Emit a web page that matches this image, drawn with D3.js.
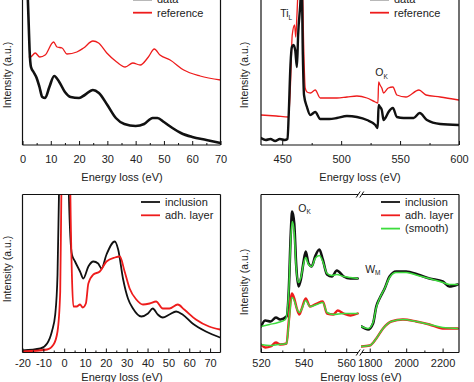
<!DOCTYPE html>
<html><head><meta charset="utf-8">
<script src="https://cdn.jsdelivr.net/npm/d3@7"></script>
<style>
body{margin:0;background:#fff}
svg{display:block}
text{font-family:"Liberation Sans",Arial,Helvetica,sans-serif;fill:#222}
</style>
</head><body>
<svg id="c" width="474" height="382"></svg>
<script>
// ---------- DATA (energy loss in eV, intensity in a.u.) ----------
// Panel 1 (low loss, 0-70 eV)
const p1Data = [[1.6,170],[2.2,120],[2.5,95],[3.0,78],[3.9,73],[5,67],[6,58],[7,48],[8,47],[9.5,58],[11.2,69],[13,63],[15,53],[17,48],[20,47],[22,50],[24.9,55],[27,52],[30,40],[33,27],[36,21],[40,19],[43,21],[46,27],[47.7,27],[50,23],[53,17],[56,12],[60,8],[65,5],[70,2]];
const p1Ref = [[2.4,88],[2.8,88],[4.5,92],[6.1,88],[8,90],[11,103],[12.2,98],[14,97],[15.7,91],[19.2,93],[21.6,97],[24.9,104],[26.9,102],[29.8,92],[33.3,83],[36.3,78],[39,82],[41.6,80],[44.5,88],[46.6,96],[48.6,90],[52.2,85],[57,75],[62.8,69],[70,65]];
const p1Ticks = [0,10,20,30,40,50,60,70];

// Panel 2 (Ti L and O K edges)
const p2Data = [[432,7],[436,5],[440,6],[444,4],[448,6],[452,5],[454.5,6],[455.5,30],[457,80],[458.2,98],[459.6,100],[461,95],[462.5,78],[463.5,110],[465.3,140],[466.5,165],[467.5,90],[468.5,50],[471,38],[473.8,30],[478,33],[482.3,26],[490,26],[496.4,27],[504.9,29],[513.4,28],[521.9,25],[529,20],[531,17],[531.8,40],[533,38],[534.5,35],[536,25],[537.5,27],[540.2,33],[543.9,37],[547.3,28],[553,27],[561.5,27],[566.6,32],[572.8,25],[584,21],[599.7,20]];
const p2Ref = [[432,30],[445,29],[455.4,28],[457,60],[458.5,110],[460.5,120],[461.5,108],[462.5,130],[464,165],[467,165],[468.2,100],[469.5,57],[471,53],[474,52],[478,55],[482.3,47],[496.4,47],[505,48],[513.4,49],[521.9,47],[529,43],[531.2,42],[531.8,63],[533,60],[534.5,57],[536,52],[540,57],[543.9,58],[547.3,50],[555,48],[566,55],[572,50],[584,48],[599.7,45]];
const p2Ticks = [450,500,550,600];

// Panel 3 (low loss, inclusion vs adhesion layer)
const p3Incl = [[-20,2],[-11.4,4],[-8.2,9],[-5.9,21],[-4.3,38],[-3.2,78],[-2.4,170],[-1,260],[1.5,260],[2.1,170],[3.7,98],[5.2,91],[7.6,81],[9.2,74],[11.6,86],[14,91],[16.3,89],[17.9,84],[20.3,98],[24.3,111],[25.9,103],[28.3,73],[30.6,54],[33,44],[37,36],[40.2,39],[42.5,44],[44.9,38],[47.3,35],[50.5,38],[53.7,41],[56.8,38],[61.6,29],[68,21],[74.8,15]];
const p3Adh = [[-20,1],[-8.2,3],[-5.1,8],[-3.2,21],[-1.9,61],[-1.3,170],[0,260],[2.5,260],[2.9,170],[3.7,78],[4.4,46],[6,46],[7.6,48],[8.9,45],[10.4,49],[11.6,69],[14,78],[17.1,81],[20.3,91],[24.3,95],[26.7,96],[29,81],[31.4,64],[34.6,53],[37.8,48],[41,49],[44.1,51],[47.3,44],[50.5,44],[54.5,48],[57.6,43],[63.2,33],[69.5,26],[74.8,23]];
const p3Ticks = [-20,-10,0,10,20,30,40,50,60,70];

// Panel 4 (O K edge and W M edge, broken axis)
const p4InclO = [[520,26],[522,32],[524.5,31],[527,35],[529,33],[532,36],[533,60],[534,120],[534.6,141],[535.6,129],[536.5,88],[537.6,66],[538.7,73],[540,91],[541,101],[542.3,89],[543.8,86],[545.4,96],[547.4,103],[549,93],[551,78],[553.3,76],[555.6,82],[558.8,76],[561.9,74],[565.4,74]];
const p4InclOSmooth = [[520,26],[524,28],[528,30],[531.5,33],[533,60],[534,115],[534.7,131],[535.6,120],[536.5,85],[537.6,70],[538.7,75],[540,89],[541,95],[542.3,88],[543.8,86],[545.4,94],[547.4,97],[549,91],[551,79],[553.3,77],[555.6,78],[558.8,76],[561.9,75],[565.4,74]];
const p4AdhO = [[520,8],[522,5],[524.5,6],[527,10],[529,8],[532,9],[533,30],[534.5,59],[535.6,54],[536.8,44],[538,38],[539,43],[541,54],[543,46],[546.2,49],[549,51],[551,39],[554,38],[556,42],[558.8,39],[562,37],[565.4,39]];
const p4AdhOSmooth = [[520,8],[524,7],[528,8],[532,9],[533,28],[534.5,55],[535.6,52],[536.8,44],[538,40],[539,43],[541,52],[543,46],[546.2,48],[549,50],[551,40],[554,38],[558.8,39],[565.4,39]];
const p4InclW = [[1754,26],[1775,24],[1791,23],[1818,29],[1836,46],[1854,54],[1882,64],[1909,76],[1945,81],[2000,81],[2064,78],[2128,74],[2201,71],[2237,66],[2283,68]];
const p4InclWSmooth = [[1754,26],[1791,24],[1818,30],[1836,45],[1854,54],[1882,64],[1909,75],[1945,80],[2000,80],[2064,77],[2128,74],[2201,70],[2237,68],[2283,68]];
const p4AdhW = [[1754,6],[1800,7],[1836,14],[1873,24],[1918,31],[1982,33],[2055,31],[2128,28],[2201,24],[2283,24]];
const p4AdhWSmooth = [[1754,6],[1800,7],[1836,14],[1873,24],[1918,31],[1982,33],[2055,31],[2128,28],[2201,25],[2283,24]];
const p4TicksO = [520,540,560];
const p4TicksW = [1800,2000,2200];

// ---------- STYLE ----------
const BLACK = "#111", RED = "#ee1c1c", GREEN = "#3ddc3d";
const svg = d3.select("#c");
let clipId = 0;

function clip(x0, y0, w, h) {
  const id = "clip" + (clipId++);
  svg.append("clipPath").attr("id", id).append("rect")
    .attr("x", x0).attr("y", y0).attr("width", w).attr("height", h);
  return "url(#" + id + ")";
}

function drawLine(g, data, x, y, color, width) {
  const line = d3.line().x(d => x(d[0])).y(d => y(d[1])).curve(d3.curveMonotoneX);
  g.append("path").datum(data).attr("d", line)
    .attr("fill", "none").attr("stroke", color).attr("stroke-width", width)
    .attr("stroke-linejoin", "round").attr("stroke-linecap", "round");
}

function bottomAxis(x, yPos, ticks, minor, pad) {
  const g = svg.append("g").attr("transform", `translate(0,${yPos})`);
  g.call(d3.axisBottom(x).tickValues(ticks).tickSizeInner(-4).tickSizeOuter(0).tickPadding(pad).tickFormat(d => String(d)));
  g.select(".domain").remove();
  g.selectAll(".tick line").attr("stroke", BLACK);
  g.selectAll(".tick text").attr("font-size", 11).attr("fill", "#222")
    .style("font-family", '"Liberation Sans",Arial,sans-serif');
  const gm = svg.append("g").attr("transform", `translate(0,${yPos})`);
  gm.call(d3.axisBottom(x).tickValues(minor).tickSizeInner(-2).tickSizeOuter(0).tickFormat(""));
  gm.select(".domain").remove();
  gm.selectAll(".tick line").attr("stroke", BLACK);
}

function frameLines(segs) {
  segs.forEach(s => svg.append("line").attr("x1", s[0]).attr("y1", s[1]).attr("x2", s[2]).attr("y2", s[3])
    .attr("stroke", BLACK).attr("stroke-width", 1.2));
}

function ylabel(cx, cy) {
  svg.append("text").attr("transform", `translate(${cx},${cy}) rotate(-90)`)
    .attr("text-anchor", "middle").attr("dy", "0.35em").attr("font-size", 10.5).text("Intensity (a.u.)");
}
function xlabel(cx, by) {
  svg.append("text").attr("x", cx).attr("y", by).attr("text-anchor", "middle")
    .attr("font-size", 11).text("Energy loss (eV)");
}
function legend(x0, y0, items) {
  items.forEach((it, i) => {
    const yy = y0 + i * 13.3;
    svg.append("line").attr("x1", x0).attr("x2", x0 + 19).attr("y1", yy).attr("y2", yy)
      .attr("stroke", it[1]).attr("stroke-width", 1.8);
    svg.append("text").attr("x", x0 + 24).attr("y", yy).attr("dy", "0.35em")
      .attr("font-size", 11).text(it[0]);
  });
}

// ---------- PANEL 1 ----------
{
  const L = 22.5, R = 220.5, T = -6, B = 145;
  const x = d3.scaleLinear().domain([0, 70]).range([L, R]);
  const y = d3.scaleLinear().domain([0, B - T]).range([B, T]);
  const g = svg.append("g").attr("clip-path", clip(L, T, R - L, B - T));
  drawLine(g, p1Ref, x, y, RED, 1.3);
  drawLine(g, p1Data, x, y, BLACK, 2.6);
  frameLines([[L, T, L, B], [L, B, R, B], [R, T, R, B], [L, T, R, T]]);
  bottomAxis(x, B, p1Ticks, [5,15,25,35,45,55,65], 10);
  ylabel(7, 75);
  xlabel(122, 181);
  legend(133, -0.6, [["data", BLACK], ["reference", RED]]);
}

// ---------- PANEL 2 ----------
{
  const L = 261, R = 459, T = -6, B = 145;
  const x = d3.scaleLinear().domain([432, 600]).range([L, R]);
  const y = d3.scaleLinear().domain([0, B - T]).range([B, T]);
  const g = svg.append("g").attr("clip-path", clip(L, T, R - L, B - T));
  drawLine(g, p2Ref, x, y, RED, 1.3);
  drawLine(g, p2Data, x, y, BLACK, 2.4);
  frameLines([[L, T, L, B], [L, B, R, B], [R, T, R, B], [L, T, R, T]]);
  bottomAxis(x, B, p2Ticks, [475, 525, 575], 10);
  ylabel(244, 75);
  xlabel(360, 181);
  legend(370, -0.6, [["data", BLACK], ["reference", RED]]);
  const t = svg.append("text").attr("x", x(458.5)).attr("y", y(128)).attr("font-size", 10.5).attr("text-anchor", "end");
  t.append("tspan").text("Ti");
  t.append("tspan").attr("font-size", 6.5).attr("dy", 2.5).text("L");
  const o = svg.append("text").attr("x", x(529)).attr("y", y(69)).attr("font-size", 10.5);
  o.append("tspan").text("O");
  o.append("tspan").attr("font-size", 6.5).attr("dy", 2.5).text("K");
}

// ---------- PANEL 3 ----------
{
  const L = 22.5, R = 220.5, T = 194.5, B = 352.5;
  const x = d3.scaleLinear().domain([-20, 75]).range([L, R]);
  const y = d3.scaleLinear().domain([0, B - T]).range([B, T]);
  const g = svg.append("g").attr("clip-path", clip(L, T, R - L, B - T));
  drawLine(g, p3Incl, x, y, BLACK, 1.8);
  drawLine(g, p3Adh, x, y, RED, 1.8);
  frameLines([[L, T, L, B], [L, B, R, B], [R, T, R, B], [L, T, R, T]]);
  bottomAxis(x, B, p3Ticks, [-15,-5,5,15,25,35,45,55,65], 7);
  ylabel(7, 269);
  xlabel(122, 381);
  legend(141, 202, [["inclusion", BLACK], ["adh. layer", RED]]);
}

// ---------- PANEL 4 ----------
{
  const L = 261, M1 = 359, M2 = 361, R = 459, T = 194.5, B = 352.5;
  const x1 = d3.scaleLinear().domain([520, 566]).range([L, M1]);
  const x2 = d3.scaleLinear().domain([1752, 2290]).range([M2, R]);
  const y = d3.scaleLinear().domain([0, B - T]).range([B, T]);
  const g1 = svg.append("g").attr("clip-path", clip(L, T, M1 - L, B - T));
  const g2 = svg.append("g").attr("clip-path", clip(M2, T, R - M2, B - T));
  drawLine(g1, p4InclO, x1, y, BLACK, 2.6);
  drawLine(g1, p4AdhO, x1, y, RED, 2.4);
  drawLine(g1, p4InclOSmooth, x1, y, GREEN, 1.5);
  drawLine(g1, p4AdhOSmooth, x1, y, GREEN, 1.5);
  drawLine(g2, p4InclW, x2, y, BLACK, 2.6);
  drawLine(g2, p4AdhW, x2, y, RED, 2.4);
  drawLine(g2, p4InclWSmooth, x2, y, GREEN, 1.5);
  drawLine(g2, p4AdhWSmooth, x2, y, GREEN, 1.5);
  frameLines([[L, T, L, B], [L, B, M1 - 1, B], [M2 + 1, B, R, B], [R, T, R, B], [L, T, M1 - 1, T], [M2 + 1, T, R, T]]);
  bottomAxis(x1, B, p4TicksO, [530, 550], 7);
  bottomAxis(x2, B, p4TicksW, [1900, 2100], 7);
  // break marks
  [T, B].forEach(yy => {
    [-1.8, 1.8].forEach(dx => {
      svg.append("line").attr("x1", 360 + dx - 2).attr("y1", yy + 3).attr("x2", 360 + dx + 2).attr("y2", yy - 3)
        .attr("stroke", BLACK).attr("stroke-width", 1);
    });
  });
  ylabel(244, 282);
  xlabel(361, 381);
  legend(381, 202, [["inclusion", BLACK], ["adh. layer", RED], ["(smooth)", GREEN]]);
  const o = svg.append("text").attr("x", x1(537.5)).attr("y", y(141)).attr("font-size", 10.5);
  o.append("tspan").text("O");
  o.append("tspan").attr("font-size", 6.5).attr("dy", 2.5).text("K");
  const w = svg.append("text").attr("x", x2(1775)).attr("y", y(80)).attr("font-size", 10.5);
  w.append("tspan").text("W");
  w.append("tspan").attr("font-size", 6.5).attr("dy", 2.5).text("M");
}
</script>
</body></html>
